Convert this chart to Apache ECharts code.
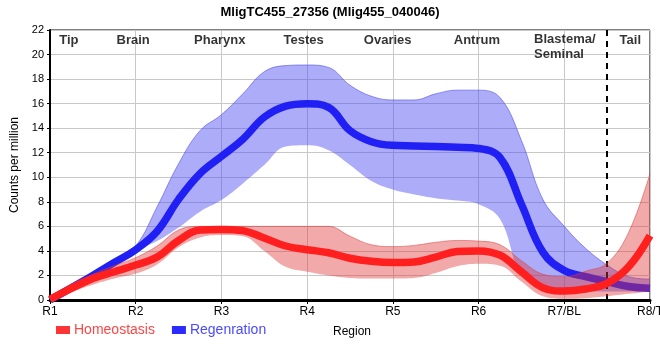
<!DOCTYPE html>
<html><head><meta charset="utf-8">
<script src="https://cdn.jsdelivr.net/npm/echarts@6/dist/echarts.min.js"></script>
<style>html,body{margin:0;padding:0;background:#fff}#c{width:660px;height:360px}</style>
</head><body><div id="c"></div>
<script>
// x positions (region units, R1=0 ... R8/T=7)
const xs = [0,0.25,0.5,0.75,1,1.25,1.5,1.75,2,2.25,2.5,2.75,3,3.25,3.5,3.75,4,4.25,4.5,4.75,5,5.25,5.5,5.75,6,6.25,6.5,6.75,7];
const xTickLabels = ['R1','R2','R3','R4','R5','R6','R7/BL','R8/T'];
// Regeneration
const regMean  = [0,1.0,2.0,3.05,4.1,5.6,8.2,10.3,11.7,13.1,14.9,15.8,16.0,15.7,13.8,12.9,12.6,12.55,12.5,12.45,12.35,11.6,7.8,3.9,2.4,1.9,1.5,1.1,0.95];
const regUpper = [0.1,1.2,2.2,3.2,4.4,7.6,11.1,13.8,15.1,16.8,18.6,19.1,19.15,18.95,17.5,16.6,16.3,16.3,16.8,17.1,17.1,16.5,13.0,8.2,6.0,4.2,2.85,1.9,1.7];
const regLower = [0,0.9,1.8,2.8,4.0,4.8,5.9,7.2,8.15,9.5,11.0,12.5,12.6,12.2,11.0,9.7,9.0,8.6,8.3,8.1,7.8,6.6,2.0,1.0,0.75,0.7,0.7,0.7,0.75];
// Homeostasis
const homMean  = [0.05,0.95,1.75,2.3,2.85,3.5,4.85,5.7,5.75,5.65,5.05,4.4,4.1,3.85,3.4,3.15,3.05,3.1,3.5,3.95,4.0,3.65,2.3,1.0,0.73,0.9,1.35,2.7,5.25];
const homUpper = [0.3,1.3,2.1,2.8,3.45,4.4,5.7,6.0,6.0,6.0,6.0,6.0,6.0,6.0,5.2,4.5,4.35,4.45,4.7,4.85,4.8,4.5,3.2,2.1,1.9,2.35,3.0,5.5,10.3];
const homLower = [0,0.65,1.25,1.75,2.15,2.9,4.3,5.1,5.3,5.2,4.0,2.7,2.3,2.0,1.8,1.75,1.75,1.8,2.2,2.75,2.95,2.8,1.5,0.3,0.1,0.15,0.3,0.5,0.7];
// Region labels at top
const regionNames = ['Tip','Brain','Pharynx','Testes','Ovaries','Antrum','Blastema/\nSeminal','Tail'];
const regionX     = [0.22,0.97,1.98,2.96,3.94,4.98,5.648,6.77];
const regionY     = [21.15,21.15,21.15,21.15,21.15,21.15,20.6,21.15];
const divideX = 6.5;

const FONT = 'Liberation Sans, Arial, sans-serif';
const cats = xs.map(String);
const isMajor = i => Math.abs(xs[i] - Math.round(xs[i])) < 1e-9;
const diff = (a,b) => a.map((v,i)=>+(v-b[i]).toFixed(3));

const chart = echarts.init(document.getElementById('c'), null, {renderer:'canvas'});
const bandBase = (name, stack, data, z) => ({
  name, type:'line', stack, data, smooth:0.4, symbol:'none', silent:true, z,
  lineStyle:{width:0, opacity:0}
});
const bandTop = (name, stack, data, fill, edge, z) => ({
  name, type:'line', stack, data, smooth:0.4, symbol:'none', silent:true, z,
  lineStyle:{width:1, color:edge}, areaStyle:{color:fill, opacity:1}
});

chart.setOption({
  backgroundColor:'#fff',
  animation:false,
  title:{text:'MligTC455_27356 (Mlig455_040046)', left:'center', top:1,
    textStyle:{fontFamily:FONT, fontSize:13, fontWeight:'bold', color:'#000'}},
  grid:{left:50, right:10, top:30, bottom:60, show:true, borderColor:'#000', borderWidth:1,
    outerBoundsMode:'none', containLabel:false},
  legend:{left:51, top:318, itemWidth:14, itemHeight:8, itemGap:17, icon:'rect',
    data:[{name:'Homeostasis', textStyle:{color:'#ff4545'}}, {name:'Regenration', textStyle:{color:'#4a4aff'}}],
    textStyle:{fontFamily:FONT, fontSize:14, padding:[0,0,0,-1]}},
  xAxis:[{type:'category', data:cats, boundaryGap:false, name:'Region', nameLocation:'middle', nameGap:26,
    nameTextStyle:{fontFamily:FONT, fontSize:12, color:'#000', padding:[0,0,0,4]},
    axisLine:{lineStyle:{color:'#000', width:3}},
    axisTick:{show:true, length:4, interval:(i)=>isMajor(i), lineStyle:{color:'#000', width:1}},
    axisLabel:{fontFamily:FONT, fontSize:12, color:'#000', margin:6, interval:(i)=>isMajor(i),
      formatter:(v,i)=>isMajor(i) ? xTickLabels[Math.round(xs[i])] : ''},
    splitLine:{show:true, interval:(i)=>isMajor(i), lineStyle:{color:'#c8c8c8', width:1}}},
    {type:'value', min:0, max:7, show:false}],
  yAxis:{type:'value', min:0, max:22, interval:2, name:'Counts per million', nameLocation:'middle', nameGap:24,
    nameTextStyle:{fontFamily:FONT, fontSize:12, color:'#000'},
    axisLine:{show:true, lineStyle:{color:'#000', width:2}},
    axisTick:{show:true, length:3, lineStyle:{color:'#000'}},
    axisLabel:{fontFamily:FONT, fontSize:11, color:'#000', margin:6},
    splitLine:{show:true, lineStyle:{color:'#c8c8c8', width:1}}},
  series:[
    bandBase('regLo','reg', regLower, 1),
    bandTop('regBand','reg', diff(regUpper, regLower), 'rgba(70,70,240,0.45)', 'rgba(70,70,230,0.55)', 2),
    {name:'Regenration', type:'line', data:regMean, smooth:0.4, symbol:'none', z:3,
      itemStyle:{color:'#2b2bff'}, lineStyle:{width:7.5, color:'#2020f4'}},
    bandBase('homLo','hom', homLower, 4),
    bandTop('homBand','hom', diff(homUpper, homLower), 'rgba(222,50,50,0.42)', 'rgba(220,60,60,0.5)', 5),
    {name:'Homeostasis', type:'line', data:homMean, smooth:0.4, symbol:'none', z:6,
      itemStyle:{color:'#ff3535'}, lineStyle:{width:7.5, color:'#ff1f1f'},
      markLine:{silent:true, symbol:'none', label:{show:false},
        lineStyle:{color:'#000', width:2, type:[6,5]}, data:[{xAxis:xs.indexOf(divideX)}]}},
    {name:'regions', type:'scatter', xAxisIndex:1, symbolSize:2, itemStyle:{color:'rgba(0,0,0,0)'}, silent:true, z:7,
      data: regionNames.map((n,i)=>({value:[regionX[i], regionY[i]], name:n,
        label: n.includes('\n') ? {align:'left'} : {}})),
      label:{show:true, position:'inside', formatter:p=>p.name, fontFamily:FONT, fontSize:13,
        fontWeight:'bold', color:'#000', lineHeight:15, align:'center'}}
  ]
});
</script></body></html>
